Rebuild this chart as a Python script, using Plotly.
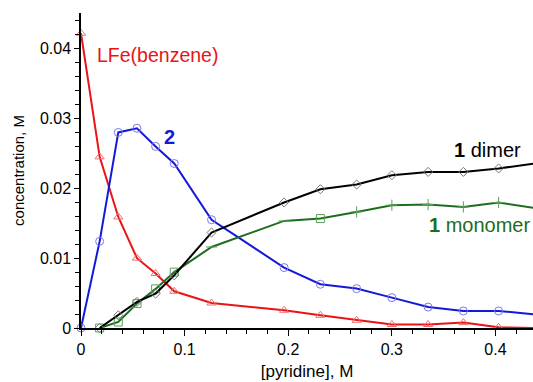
import plotly.graph_objects as go

# pyridine concentration (M)
x_pyr = [0, 0.018, 0.036, 0.054, 0.072, 0.090, 0.126, 0.196, 0.231, 0.266, 0.300, 0.335, 0.369, 0.403, 0.437]

# concentrations (M)
lfe_benzene = [0.0422, 0.0245, 0.0159, 0.0100, 0.0078, 0.00526, 0.00358, 0.00254, 0.00182, 0.0011, 0.0005, 0.0005, 0.00077, 0.0001, 0.0]
complex_2 = [0.0, 0.0124, 0.0280, 0.0286, 0.0260, 0.02355, 0.0155, 0.00865, 0.00626, 0.00564, 0.00435, 0.0030, 0.00244, 0.00244, 0.00196]
dimer_1 = [0.0, 0.00182, 0.00373, 0.00493, 0.00755, 0.01367, 0.01797, 0.01987, 0.02054, 0.02188, 0.02235, 0.02235, 0.02284, 0.02355]
monomer_1 = [0.0, 0.00086, 0.0035, 0.0056, 0.0080, 0.0116, 0.01533, 0.01567, 0.01662, 0.01758, 0.01768, 0.01734, 0.01797, 0.0172]
x_1 = x_pyr[1:]

FONT = "Arial, Liberation Sans, sans-serif"
RED = "rgb(232,20,22)"
BLUE = "rgb(20,25,215)"
BLACK = "rgb(0,0,0)"
GREEN = "rgb(28,110,30)"

fig = go.Figure()

fig.add_trace(go.Scatter(
    x=x_pyr, y=lfe_benzene, mode="lines+markers", cliponaxis=False,
    line=dict(color=RED, width=2),
    marker=dict(symbol="triangle-up-open", size=8, color="rgb(240,110,110)", line=dict(width=1)),
    showlegend=False))

fig.add_trace(go.Scatter(
    x=x_pyr, y=complex_2, mode="lines+markers", cliponaxis=False,
    line=dict(color=BLUE, width=2),
    marker=dict(symbol="circle-open", size=8, color="rgb(120,120,240)", line=dict(width=1)),
    showlegend=False))

green_symbols = ["square-open", "square-open", "square-open", "square-open", "square-open",
                 "line-ew-open", "line-ew-open", "square-open", "cross-thin-open", "cross-thin-open",
                 "cross-thin-open", "cross-thin-open", "cross-thin-open", "cross-thin-open"]
fig.add_trace(go.Scatter(
    x=x_1, y=monomer_1, mode="lines+markers", cliponaxis=False,
    line=dict(color=GREEN, width=2),
    marker=dict(symbol=green_symbols, size=8, color="rgb(90,160,90)", line=dict(width=1)),
    showlegend=False))

fig.add_trace(go.Scatter(
    x=x_1, y=dimer_1, mode="lines+markers", cliponaxis=False,
    line=dict(color=BLACK, width=2),
    marker=dict(symbol="diamond-open", size=7, color="rgb(120,120,120)", line=dict(width=1)),
    showlegend=False))

annots = [
    dict(x=0.0735, y=0.0391, text="LFe(benzene)", font=dict(color=RED, size=19.5)),
    dict(x=0.0856, y=0.02736, text="<b>2</b>", font=dict(color=BLUE, size=20)),
    dict(x=0.3919, y=0.02546, text="<b>1</b> dimer", font=dict(color=BLACK, size=20)),
    dict(x=0.3844, y=0.01478, text="<b>1</b> monomer", font=dict(color=GREEN, size=20)),
]
for a in annots:
    a.update(xref="x", yref="y", showarrow=False, xanchor="center", yanchor="middle")
    a["font"]["family"] = FONT

fig.update_layout(
    width=533, height=382,
    margin=dict(l=81, r=0, t=13, b=54, autoexpand=False),
    plot_bgcolor="white", paper_bgcolor="white",
    font=dict(family=FONT, size=16, color="black"),
    annotations=annots,
    xaxis=dict(
        range=[0, 0.4362], dtick=0.1, tick0=0,
        showgrid=False, zeroline=False,
        showline=True, linecolor="black", linewidth=1.5,
        ticks="outside", ticklen=6, tickwidth=1.2, tickcolor="black",
        minor=dict(dtick=0.02, ticks="outside", ticklen=4, tickwidth=1, tickcolor="black"),
        tickfont=dict(size=16),
        title=dict(text="[pyridine], M", font=dict(size=17), standoff=8),
    ),
    yaxis=dict(
        range=[0, 0.0451], dtick=0.01, tick0=0,
        showgrid=False, zeroline=False,
        showline=True, linecolor="black", linewidth=1.5,
        ticks="outside", ticklen=5, tickwidth=1.2, tickcolor="black",
        minor=dict(dtick=0.002, ticks="outside", ticklen=4, tickwidth=1, tickcolor="black"),
        tickfont=dict(size=16),
        title=dict(text="concentration, M", font=dict(size=15), standoff=12),
    ),
)

# remove the browser's default 8px body margin so the figure fills the window exactly
fig.write_html(
    "out.html",
    config={"displayModeBar": False},
    post_script="document.body.style.margin='0';document.body.style.overflow='hidden';",
)
